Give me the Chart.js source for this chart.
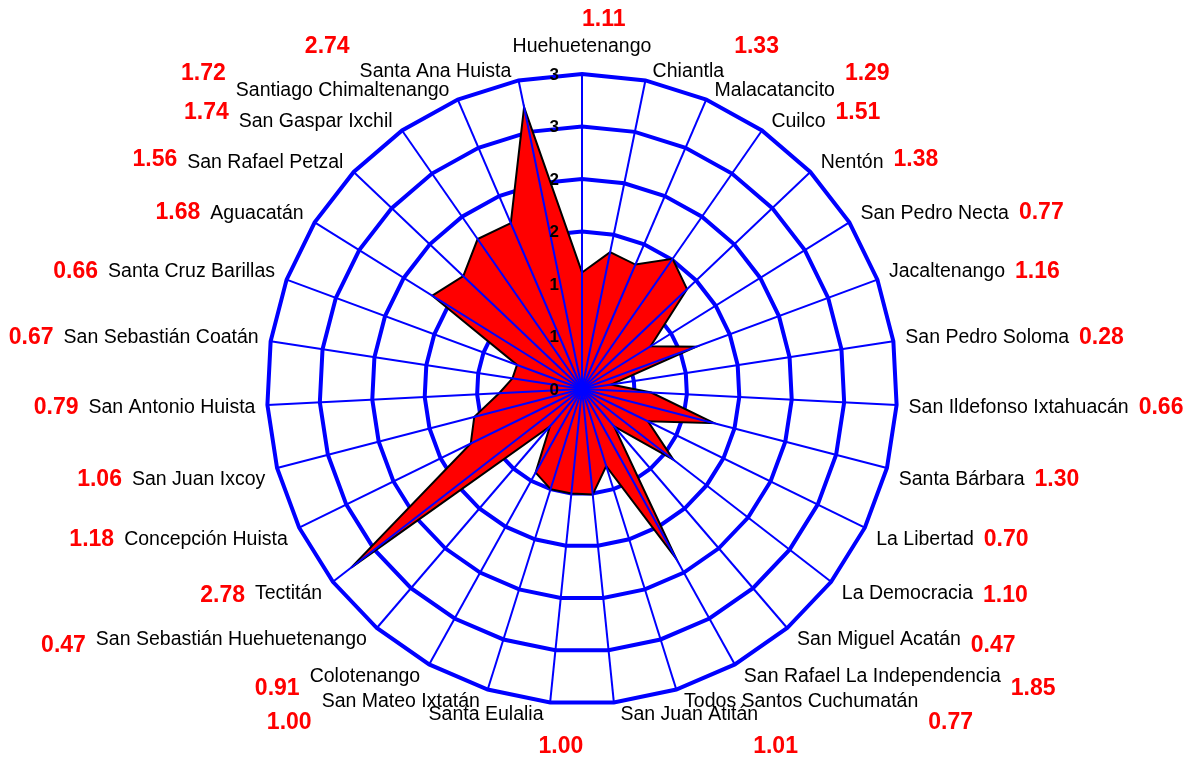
<!DOCTYPE html>
<html>
<head>
<meta charset="utf-8">
<script src="https://cdn.jsdelivr.net/npm/chart.js@4/dist/chart.umd.min.js"></script>
<style>
  body { margin: 0; background: #fff; }
</style>
</head>
<body>
<canvas id="myChart" width="1188" height="759"></canvas>
<script>
// municipios de Huehuetenango (sentido horario desde arriba)
const categories = [
  "Huehuetenango", "Chiantla", "Malacatancito", "Cuilco", "Nentón",
  "San Pedro Necta", "Jacaltenango", "San Pedro Soloma", "San Ildefonso Ixtahuacán",
  "Santa Bárbara", "La Libertad", "La Democracia", "San Miguel Acatán",
  "San Rafael La Independencia", "Todos Santos Cuchumatán", "San Juan Atitán",
  "Santa Eulalia", "San Mateo Ixtatán", "Colotenango", "San Sebastián Huehuetenango",
  "Tectitán", "Concepción Huista", "San Juan Ixcoy", "San Antonio Huista",
  "San Sebastián Coatán", "Santa Cruz Barillas", "Aguacatán", "San Rafael Petzal",
  "San Gaspar Ixchil", "Santiago Chimaltenango", "Santa Ana Huista"
];

// valores
const values = [
  1.11, 1.33, 1.29, 1.51, 1.38,
  0.77, 1.16, 0.28, 0.66,
  1.30, 0.70, 1.10, 0.47,
  1.85, 0.77, 1.01,
  1.00, 1.00, 0.91, 0.47,
  2.78, 1.18, 1.06, 0.79,
  0.67, 0.66, 1.68, 1.56,
  1.74, 1.72, 2.74
];

// escala
const tickValues = [0, 0.5, 1, 1.5, 2, 2.5, 3];
const tickLabels = ["0", "1", "1", "2", "2", "3", "3"];

const FONT = '"Liberation Sans", Arial, sans-serif';
const LABEL_SIZE = 19.5;

// rayos encima del relleno + etiquetas
const overlay = {
  id: "overlay",
  afterDatasetsDraw(chart) {
    const scale = chart.scales.r;
    const ctx = chart.ctx;
    ctx.save();
    ctx.strokeStyle = "#0000ff";
    ctx.lineWidth = 2;
    for (let i = 0; i < categories.length; i++) {
      const p = scale.getPointPosition(i, scale.drawingArea);
      ctx.beginPath();
      ctx.moveTo(scale.xCenter, scale.yCenter);
      ctx.lineTo(p.x, p.y);
      ctx.stroke();
    }
    // etiquetas del eje
    ctx.fillStyle = "#000";
    ctx.font = "bold 17px " + FONT;
    ctx.textAlign = "right";
    ctx.textBaseline = "middle";
    for (let i = 0; i < tickValues.length; i++) {
      const d = scale.getDistanceFromCenterForValue(tickValues[i]);
      ctx.fillText(tickLabels[i], scale.xCenter - 23, scale.yCenter - d + 1);
    }
    ctx.restore();
  },
  afterDraw(chart) {
    const scale = chart.scales.r;
    const ctx = chart.ctx;
    const n = categories.length;
    ctx.save();
    ctx.textBaseline = "middle";
    for (let i = 0; i < n; i++) {
      const a = (2 * Math.PI * i) / n;
      const s = Math.sin(a);
      const c = Math.cos(a);
      const p = scale.getPointPosition(i, scale.drawingArea);

      // nombre del municipio
      ctx.font = LABEL_SIZE + "px " + FONT;
      ctx.fillStyle = "#000";
      const w = ctx.measureText(categories[i]).width;
      let x, y, left;
      if (Math.abs(s) < 0.05) {
        y = p.y - 27;
        left = p.x - w / 2;
      } else {
        const gap = 6 + 6 * Math.abs(s);
        if (c > 0) y = p.y - 9 * Math.min(1, c * 2.5);
        else y = p.y + 12 * Math.min(1, -c * 4);
        left = s > 0 ? p.x + gap : p.x - gap - w;
      }
      ctx.textAlign = "left";
      ctx.fillText(categories[i], left, y);
      const right = left + w;

      // valor en rojo
      ctx.font = "bold 23px " + FONT;
      ctx.fillStyle = "#ff0000";
      let ry = y - 28 * Math.sign(c) * Math.pow(c, 6);
      if (Math.abs(s) < 0.05) {
        ctx.textAlign = "left";
        x = left + w / 2;
        ry = y - 27;
      } else if (Math.abs(s) < 0.15) {
        ctx.textAlign = "left";
        x = right - 5;
        ry = y + 32;
      } else if (s > 0) {
        ctx.textAlign = "left";
        x = right + 10;
      } else {
        ctx.textAlign = "right";
        x = left - 10;
      }
      ctx.fillText(values[i].toFixed(2), x, ry);
    }
    ctx.restore();
  }
};

const ctx = document.getElementById("myChart").getContext("2d");
const myChart = new Chart(ctx, {
  type: "radar",
  data: {
    labels: categories,
    datasets: [
      {
        data: values,
        backgroundColor: "#ff0000",
        borderColor: "#000000",
        borderWidth: 2,
        pointRadius: 0,
        fill: true,
      },
    ],
  },
  options: {
    responsive: false,
    animation: false,
    layout: {
      padding: { top: 74, bottom: 55, left: 0, right: 24 },
    },
    scales: {
      r: {
        min: 0,
        max: 3,
        ticks: {
          stepSize: 0.5,
          display: false,
        },
        grid: {
          color: "#0000ff",
          lineWidth: 4,
        },
        angleLines: {
          display: false,
        },
        pointLabels: {
          display: false,
        },
      },
    },
    plugins: {
      legend: { display: false },
      tooltip: { enabled: false },
    },
  },
  plugins: [overlay],
});
</script>
</body>
</html>
